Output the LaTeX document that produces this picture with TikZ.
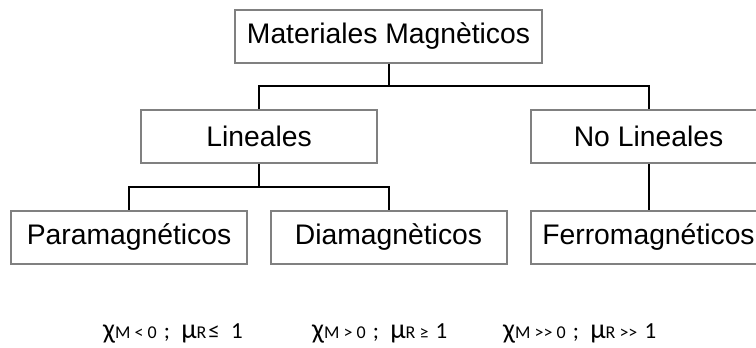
\documentclass[tikz,border=0pt]{standalone}
\usepackage{fontspec}
\setmainfont{Liberation Sans}
\newfontfamily\formfont{Carlito}
\usetikzlibrary{positioning}

\newcommand{\subtxt}[1]{{\fontsize{18}{21}\selectfont #1}}
\newcommand{\grk}[1]{{\fontsize{28}{32}\selectfont #1}}

\tikzset{
  box/.style={draw=gray, fill=white, line width=2pt, minimum width=236pt,
              minimum height=53pt, inner sep=0pt, font=\fontsize{28.3}{34}\selectfont},
  link/.style={black, line width=2pt},
  formula/.style={anchor=base west, inner sep=0pt, font=\formfont\fontsize{23}{28}\selectfont}
}

\begin{document}
\begin{tikzpicture}[x=1pt, y=-1pt]
\useasboundingbox (0,0) rectangle (756,348);

% --- Boxes ---
\node[box, minimum width=307pt] (mm) at (388.5,36) {Materiales Magnèticos};
\node[box] (lin) at (259,136.5) {Lineales};
\node[box] (nolin) at (648.5,136.5) {No Lineales};
\node[box] (para) at (129,237) {Paramagnéticos};
\node[box] (dia) at (388.5,237) {Diamagnèticos};
\node[box] (ferro) at (648.5,237) {Ferromagnéticos};

% --- Connectors ---
\coordinate (j1) at (388.5,86);
\coordinate (j2) at (259,187);
\draw[link] (mm.south) -- (j1) -| (lin.north);
\draw[link] (j1) -| (nolin.north);
\draw[link] (lin.south) -- (j2) -| (para.north);
\draw[link] (j2) -| (dia.north);
\draw[link] (nolin.south) -- (ferro.north);

% --- Formulas ---
\node[formula] (f1) at (103,338)
  {\grk{χ}\subtxt{M < 0}\hspace{2pt} ;\hspace{6pt} \grk{μ}\subtxt{R}\hspace{2pt}≤\hspace{6pt} 1};
\node[formula] (f2) at (312,338)
  {\grk{χ}\subtxt{M > 0}\hspace{2pt} ;\hspace{6pt} \grk{μ}\subtxt{R ≥}\hspace{2pt} 1};
\node[formula] (f3) at (503,338)
  {\grk{χ}\subtxt{M >> 0}\hspace{2pt} ;\hspace{6pt} \grk{μ}\subtxt{R >>}\hspace{2pt} 1};

\end{tikzpicture}
\end{document}
